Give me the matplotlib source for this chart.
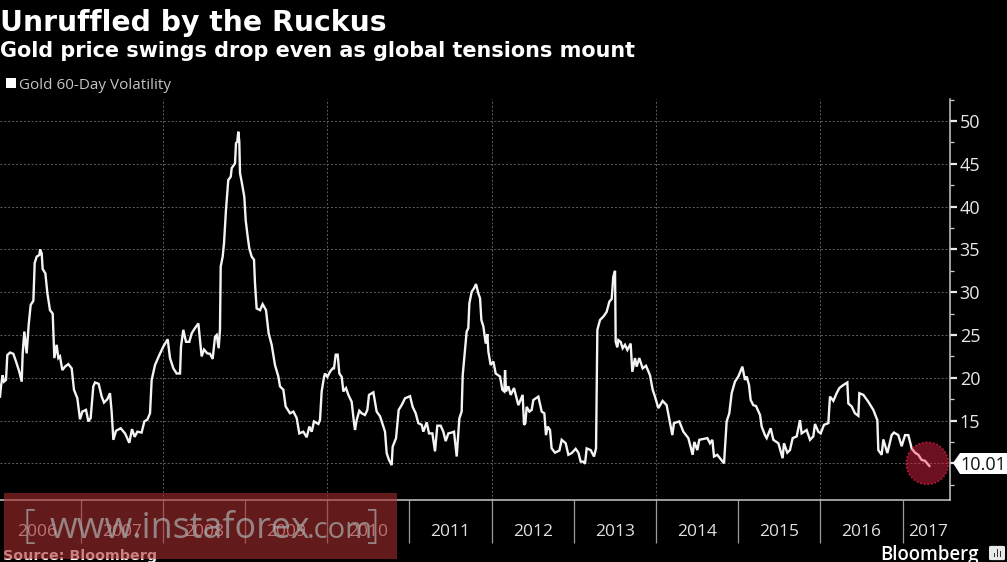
import matplotlib.pyplot as plt
from matplotlib.patches import Circle, Polygon, Rectangle, FancyBboxPatch

vol_years = [
    2006.020, 2006.032, 2006.052, 2006.069, 2006.093, 2006.109, 2006.142, 2006.182, 2006.215, 2006.255,
    2006.284, 2006.296, 2006.316, 2006.344, 2006.369, 2006.393, 2006.426, 2006.442, 2006.466, 2006.499,
    2006.507, 2006.527, 2006.539, 2006.572, 2006.596, 2006.628, 2006.661, 2006.681, 2006.709, 2006.730,
    2006.750, 2006.778, 2006.811, 2006.851, 2006.892, 2006.920, 2006.961, 2006.993, 2007.022, 2007.066,
    2007.095, 2007.123, 2007.155, 2007.176, 2007.220, 2007.257, 2007.285, 2007.326, 2007.358, 2007.378,
    2007.399, 2007.431, 2007.488, 2007.541, 2007.593, 2007.626, 2007.658, 2007.691, 2007.743, 2007.776,
    2007.812, 2007.845, 2007.865, 2007.906, 2007.958, 2008.007, 2008.060, 2008.088, 2008.129, 2008.169,
    2008.210, 2008.222, 2008.250, 2008.283, 2008.323, 2008.352, 2008.392, 2008.433, 2008.473, 2008.502,
    2008.542, 2008.575, 2008.607, 2008.636, 2008.656, 2008.680, 2008.696, 2008.705, 2008.729, 2008.745,
    2008.769, 2008.797, 2008.827, 2008.839, 2008.879, 2008.891, 2008.907, 2008.919, 2008.931, 2008.940,
    2008.960, 2008.992, 2009.009, 2009.033, 2009.053, 2009.082, 2009.110, 2009.122, 2009.142, 2009.183,
    2009.215, 2009.256, 2009.288, 2009.325, 2009.365, 2009.406, 2009.426, 2009.467, 2009.495, 2009.548,
    2009.589, 2009.629, 2009.661, 2009.710, 2009.751, 2009.783, 2009.812, 2009.840, 2009.893, 2009.913,
    2009.933, 2009.962, 2009.974, 2010.002, 2010.035, 2010.067, 2010.083, 2010.104, 2010.128, 2010.148,
    2010.177, 2010.197, 2010.229, 2010.258, 2010.298, 2010.327, 2010.339, 2010.359, 2010.391, 2010.420,
    2010.460, 2010.489, 2010.509, 2010.562, 2010.602, 2010.643, 2010.704, 2010.724, 2010.752, 2010.785,
    2010.797, 2010.838, 2010.870, 2010.906, 2010.947, 2011.008, 2011.040, 2011.077, 2011.109, 2011.150,
    2011.170, 2011.211, 2011.239, 2011.280, 2011.312, 2011.340, 2011.381, 2011.413, 2011.442, 2011.474,
    2011.515, 2011.543, 2011.576, 2011.608, 2011.636, 2011.649, 2011.677, 2011.697, 2011.717, 2011.730,
    2011.758, 2011.786, 2011.811, 2011.839, 2011.860, 2011.876, 2011.900, 2011.929, 2011.949, 2011.961,
    2011.989, 2012.022, 2012.050, 2012.103, 2012.131, 2012.155, 2012.164, 2012.176, 2012.204, 2012.233,
    2012.273, 2012.326, 2012.378, 2012.395, 2012.411, 2012.427, 2012.460, 2012.488, 2012.508, 2012.569,
    2012.610, 2012.642, 2012.662, 2012.683, 2012.711, 2012.731, 2012.772, 2012.825, 2012.853, 2012.902,
    2012.934, 2012.975, 2013.023, 2013.056, 2013.084, 2013.116, 2013.137, 2013.157, 2013.206, 2013.246,
    2013.271, 2013.287, 2013.319, 2013.360, 2013.400, 2013.433, 2013.461, 2013.481, 2013.502, 2013.510,
    2013.530, 2013.542, 2013.570, 2013.595, 2013.623, 2013.652, 2013.692, 2013.712, 2013.745, 2013.765,
    2013.797, 2013.838, 2013.879, 2013.927, 2013.960, 2013.988, 2014.029, 2014.081, 2014.130, 2014.171,
    2014.199, 2014.219, 2014.284, 2014.333, 2014.394, 2014.446, 2014.467, 2014.503, 2014.527, 2014.625,
    2014.657, 2014.686, 2014.706, 2014.746, 2014.828, 2014.860, 2014.892, 2014.921, 2014.961, 2015.002,
    2015.051, 2015.083, 2015.103, 2015.132, 2015.152, 2015.184, 2015.217, 2015.266, 2015.286, 2015.326,
    2015.347, 2015.395, 2015.428, 2015.489, 2015.541, 2015.557, 2015.598, 2015.630, 2015.663, 2015.712,
    2015.752, 2015.772, 2015.833, 2015.874, 2015.914, 2015.935, 2015.975, 2016.004, 2016.044, 2016.097,
    2016.117, 2016.158, 2016.198, 2016.231, 2016.279, 2016.328, 2016.340, 2016.381, 2016.421, 2016.462,
    2016.474, 2016.523, 2016.583, 2016.644, 2016.693, 2016.705, 2016.746, 2016.766, 2016.815, 2016.867,
    2016.896, 2016.948, 2016.989, 2017.030, 2017.070, 2017.111, 2017.151, 2017.192, 2017.232, 2017.273,
    2017.326,
]
vol_values = [
    17.8, 19.0, 20.3, 19.55, 19.75, 22.65, 22.95, 22.8, 21.9, 20.7,
    19.55, 22.85, 25.4, 22.85, 26.2, 28.5, 29.0, 33.4, 34.15, 34.35,
    35.0, 34.55, 32.7, 32.2, 29.9, 27.9, 27.5, 22.3, 23.85, 22.3,
    22.5, 20.9, 21.3, 21.6, 21.1, 18.6, 17.6, 15.15, 16.05, 16.25,
    14.9, 15.3, 19.0, 19.45, 19.3, 17.8, 17.1, 17.5, 18.2, 16.05,
    12.75, 13.8, 14.1, 13.5, 12.4, 14.0, 13.1, 13.7, 13.6, 14.9,
    15.1, 15.85, 19.75, 21.5, 22.65, 23.65, 24.5, 22.3, 21.1, 20.5,
    20.5, 23.65, 25.6, 24.2, 24.2, 25.2, 25.8, 26.35, 22.5, 23.3,
    22.85, 22.8, 22.2, 24.8, 25.0, 23.45, 25.6, 33.0, 34.15, 35.7,
    39.6, 43.1, 43.5, 44.5, 45.05, 47.4, 47.6, 48.75, 47.6, 43.9,
    42.9, 41.15, 38.4, 36.5, 35.1, 34.15, 33.8, 31.05, 28.1, 27.9,
    28.6, 27.9, 25.2, 23.85, 21.5, 20.15, 19.0, 18.6, 16.65, 15.85,
    16.05, 15.3, 13.5, 13.7, 13.05, 14.3, 13.7, 14.9, 14.6, 15.07,
    18.4, 20.1, 20.5, 20.1, 20.7, 21.1, 21.1, 22.7, 22.7, 20.5,
    20.1, 18.4, 18.8, 18.0, 17.2, 14.7, 13.9, 15.05, 16.15, 15.85,
    15.65, 16.25, 18.0, 18.3, 16.05, 15.5, 13.7, 11.2, 10.4, 9.8,
    11.95, 12.95, 16.25, 16.8, 17.6, 17.85, 16.6, 15.85, 14.7, 14.5,
    13.7, 14.8, 13.5, 13.5, 11.4, 14.4, 14.4, 13.7, 12.6, 13.5,
    13.6, 13.7, 10.8, 15.25, 16.05, 20.3, 23.25, 25.4, 25.8, 28.7,
    30.05, 30.45, 30.95, 29.85, 29.3, 26.75, 26.0, 24.0, 25.1, 23.05,
    21.5, 21.9, 20.5, 20.15, 18.6, 18.4, 20.9, 18.4, 19.0, 18.0,
    18.8, 16.8, 18.0, 14.5, 14.7, 16.6, 16.05, 16.25, 17.4, 17.8,
    16.05, 15.85, 13.3, 14.3, 13.9, 11.75, 11.25, 11.5, 12.75, 12.35,
    11.0, 11.2, 11.7, 11.25, 10.2, 10.2, 9.95, 11.75, 11.55, 10.8,
    11.75, 25.6, 26.75, 27.15, 27.7, 28.9, 29.2, 31.8, 32.5, 24.2,
    23.55, 24.4, 24.2, 23.45, 23.85, 23.25, 24.0, 20.7, 22.3, 21.3,
    22.3, 21.1, 21.4, 20.3, 18.6, 17.8, 16.45, 17.3, 16.8, 14.7,
    13.3, 14.7, 14.9, 13.7, 12.95, 11.0, 12.5, 11.55, 12.75, 12.95,
    12.35, 12.75, 10.8, 11.0, 10.0, 14.9, 15.85, 18.2, 19.55, 20.15,
    21.3, 19.75, 20.15, 19.15, 17.4, 16.8, 16.7, 15.65, 14.3, 13.3,
    12.95, 14.1, 12.75, 12.35, 10.6, 12.35, 11.25, 11.55, 12.95, 13.15,
    15.05, 13.5, 13.9, 12.75, 13.15, 14.6, 13.7, 13.5, 14.5, 14.7,
    17.8, 17.3, 18.2, 18.8, 19.15, 19.45, 17.0, 16.65, 15.85, 15.55,
    18.2, 18.0, 17.2, 16.25, 15.05, 11.55, 11.0, 12.8, 11.2, 13.3,
    13.6, 13.3, 12.0, 13.3, 13.3, 11.75, 11.25, 11.0, 10.4, 10.3,
    9.7,
]

year_ticks = list(range(2007, 2018))
year_labels = [str(y) for y in range(2006, 2018)]
year_label_pos = [2006.47] + [y + 0.5 for y in range(2007, 2017)] + [2017.31]
grid_years = [2008, 2010, 2012, 2014, 2016]
y_major = [10, 15, 20, 25, 30, 35, 40, 45, 50]
y_minor = [7.5, 12.5, 17.5, 22.5, 27.5, 32.5, 37.5, 42.5, 47.5, 52.5]

W, H = 1007, 562
SANS = 'Open Sans'


def px(x, y):
    return x / W, 1 - y / H


fig = plt.figure(figsize=(W / 100, H / 100), dpi=100, facecolor='black')
ax = fig.add_axes([0, 1 - 500 / H, 950 / W, 401 / H], facecolor='black')

ax.plot(vol_years, vol_values, color='#f4f4f4', lw=1.7, solid_joinstyle='miter', zorder=3)

ax.set_xlim(2006.02, 2017.577)
ax.set_ylim(5.72, 52.57)

ax.yaxis.tick_right()
ax.set_yticks(y_major)
ax.set_yticks(y_minor, minor=True)
ax.set_xticks(year_ticks)
ax.set_xticklabels([])
ax.set_xticks(year_label_pos, labels=year_labels, minor=True)

ax.tick_params(axis='y', which='major', colors='#e8e8e8', length=5, width=1.6, pad=2, labelsize=13)
ax.tick_params(axis='y', which='minor', colors='#d0d0d0', length=3, width=0.9)
ax.tick_params(axis='x', which='major', color='#9a9a9a', length=31, width=0.9)
ax.tick_params(axis='x', which='minor', length=0, pad=17, labelsize=12.5, labelcolor='#e0e0e0')
for lab in ax.get_xticklabels(minor=True) + ax.get_yticklabels():
    lab.set_family(SANS)

for s in ['top', 'left']:
    ax.spines[s].set_visible(False)
for s in ['bottom', 'right']:
    ax.spines[s].set_color('#c8c8c8')
    ax.spines[s].set_linewidth(1.1)

for v in y_major:
    ax.axhline(v, color='#5e5e5e', lw=0.7, ls=(0, (2, 2)), zorder=1)
for y in grid_years:
    ax.axvline(y, color='#5e5e5e', lw=0.7, ls=(0, (2, 2)), zorder=1)

# titles and legend
fig.text(*px(0, 31), 'Unruffled by the Ruckus', color='white', fontsize=20.3, fontweight='bold', va='baseline')
fig.text(*px(0, 57), 'Gold price swings drop even as global tensions mount', color='white',
         fontsize=14.95, fontweight='bold', va='baseline')
fig.add_artist(Rectangle(px(6, 88), 10 / W, 10 / H, transform=fig.transFigure, color='white', lw=0))
fig.text(*px(19, 89), 'Gold 60-Day Volatility', color='#c4c4c4', fontsize=11, family=SANS, va='baseline')

# last value marker
fig.add_artist(Circle((927.3, H - 463.3), 21, transform=None, facecolor='#ff2850', alpha=0.42, lw=0, zorder=5))
fig.add_artist(Circle((927.3, H - 463.3), 21, transform=None, fill=False, edgecolor='#c0183a', lw=1.2,
                      ls=(0, (1, 1.2)), zorder=5))
fig.add_artist(Polygon([px(953, 463), px(960, 453), px(1007, 453), px(1007, 474), px(960, 474)],
                       transform=fig.transFigure, facecolor='white', lw=0, zorder=6))
fig.text(*px(960, 469.5), '10.01', color='#111111', fontsize=13, family=SANS, va='baseline', zorder=7)

# footer
fig.text(*px(3, 560), 'Source: Bloomberg', color='white', fontsize=10.3, fontweight='bold', va='baseline')
fig.text(*px(880, 560), 'Bloomberg', color='white', fontsize=13.4, family=SANS, fontweight='semibold', va='baseline')
fig.add_artist(FancyBboxPatch(px(991, 559), 12 / W, 12 / H, transform=fig.transFigure,
                              boxstyle='round,pad=0.002', facecolor='#e8e8e8', lw=0))
for bx, bh in [(993.5, 4), (996.5, 8), (999.5, 6)]:
    fig.add_artist(Rectangle(px(bx, 557), 1.6 / W, bh / H, transform=fig.transFigure, facecolor='#333333', lw=0))

# watermark
fig.add_artist(Rectangle(px(3.5, 559), 393.5 / W, 66 / H, transform=fig.transFigure, facecolor='#a52d2d',
                         alpha=0.6, lw=0, zorder=8))
wm = dict(color='#a8a8a8', alpha=0.75, family=SANS, va='baseline', zorder=9)
fig.text(*px(23, 538), '[', fontsize=29, fontweight='light', **wm)
fig.text(*px(50, 538), 'www.instaforex', fontsize=25.8, **wm)
fig.text(*px(307, 538), '.com', fontsize=21, **wm)
fig.text(*px(367, 538), ']', fontsize=29, fontweight='light', **wm)

fig.savefig('out.png', dpi=100, facecolor='black')
